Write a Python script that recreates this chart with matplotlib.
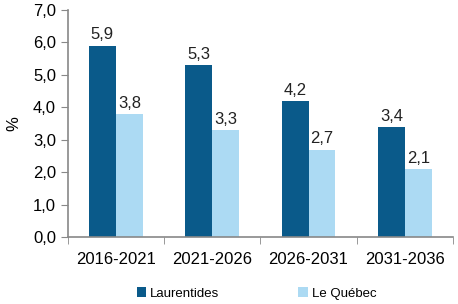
import matplotlib
matplotlib.use("Agg")
import matplotlib.pyplot as plt
import numpy as np

categories = ["2016-2021", "2021-2026", "2026-2031", "2031-2036"]
laurentides = [5.9, 5.3, 4.2, 3.4]
quebec = [3.8, 3.3, 2.7, 2.1]
series_names = ["Laurentides", "Le Québec"]

plt.rcParams['font.family'] = ['Liberation Sans', 'DejaVu Sans']

dark = "#0a5a8a"
light = "#acdaf3"

fig = plt.figure(figsize=(4.58, 3.04), dpi=100)
ax = fig.add_axes([0.148, 0.22, 0.841, 0.747])

x = np.arange(len(categories))
w = 0.28
b1 = ax.bar(x - w/2, laurentides, w, color=dark, label=series_names[0])
b2 = ax.bar(x + w/2, quebec, w, color=light, label=series_names[1])

for bars, vals in ((b1, laurentides), (b2, quebec)):
    for r, v in zip(bars, vals):
        ax.text(r.get_x() + r.get_width()/2, v + 0.1, f"{v:.1f}".replace(".", ","),
                ha="center", va="bottom", fontsize=12, color="#222222")

ax.set_ylim(0, 7)
ax.set_xlim(-0.5, len(categories) - 0.5)
ax.set_yticks(np.arange(0, 8, 1))
ax.set_yticklabels([f"{v:.1f}".replace(".", ",") for v in np.arange(0, 8, 1)], fontsize=12)
ax.set_xticks(x)
ax.set_xticklabels(categories, fontsize=12)
ax.tick_params(axis="x", length=0, pad=11)
ax.set_xticks(np.arange(-0.5, len(categories)), minor=True)
ax.tick_params(axis="x", which="minor", length=5, color="#888888", direction="out")
ax.tick_params(axis="y", length=5, color="#888888", direction="out")
ax.set_ylabel("%", fontsize=12, labelpad=8)

for s in ["top", "right"]:
    ax.spines[s].set_visible(False)
for s in ["left", "bottom"]:
    ax.spines[s].set_color("#888888")
    ax.spines[s].set_linewidth(1.2)

fig.legend(handles=[b1, b2], labels=series_names, loc="lower center",
           bbox_to_anchor=(0.56, -0.025), ncol=2, frameon=False, fontsize=9.5,
           handlelength=0.7, handleheight=0.7, handletextpad=0.3, columnspacing=6)

fig.savefig("out.png", dpi=100)
